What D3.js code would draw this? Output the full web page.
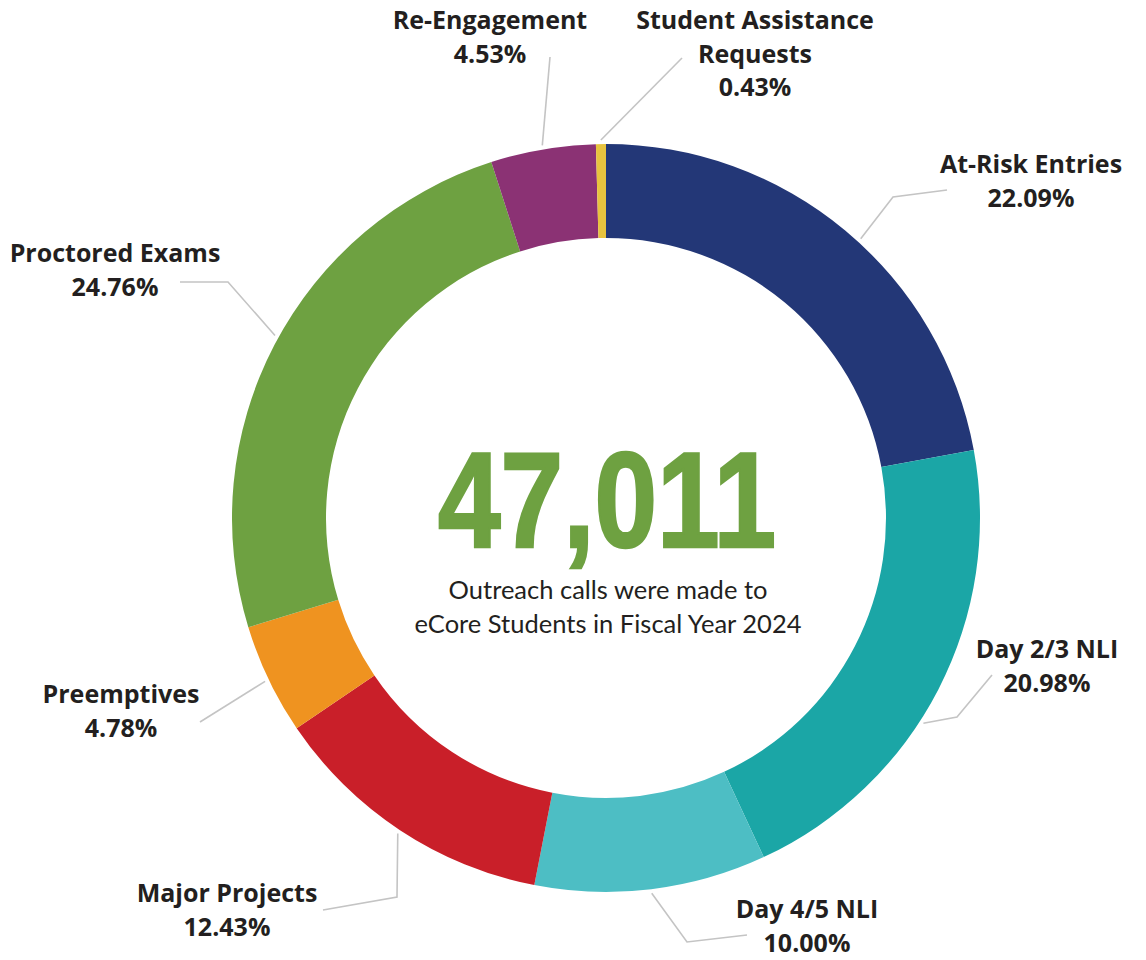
<!DOCTYPE html>
<html>
<head>
<meta charset="utf-8">
<script src="https://cdn.jsdelivr.net/npm/d3@7"></script>
<style>
  body { margin: 0; background: #fff; }
  svg { display: block; }
</style>
</head>
<body>
<div id="chart"></div>
<script>
// outreach call categories, clockwise from 12 o'clock
var categories = ["At-Risk Entries", "Day 2/3 NLI", "Day 4/5 NLI", "Major Projects",
    "Preemptives", "Proctored Exams", "Re-Engagement", "Student Assistance Requests"];
var shares = [22.09, 20.98, 10.00, 12.43, 4.78, 24.76, 4.53, 0.43];
var colors = ["#233777", "#1ba6a6", "#4dbec4", "#c91f29", "#ef9320", "#6ea141", "#8b3274", "#e7c33f"];
var totalCalls = 47011;
var subtitle = ["Outreach calls were made to", "eCore Students in Fiscal Year 2024"];

// label placement: label lines, label anchor (center x, first baseline), leader bends
var labelLayout = [
    { lines: ["At-Risk Entries"], x: 1031, y: 173, shift: 2.6, bends: [[893, 197], [947, 190]] },
    { lines: ["Day 2/3 NLI"], x: 1047, y: 658, shift: 5.6, bends: [[957, 717], [992, 675]] },
    { lines: ["Day 4/5 NLI"], x: 807, y: 918, shift: 0, bends: [[687, 942], [747, 935]] },
    { lines: ["Major Projects"], x: 227, y: 902, shift: 0, bends: [[397, 897], [323, 910]] },
    { lines: ["Preemptives"], x: 121, y: 703, shift: 0, bends: [[200, 722]] },
    { lines: ["Proctored Exams"], x: 115, y: 262, shift: 1.3, bends: [[228, 282], [180, 282]] },
    { lines: ["Re-Engagement"], x: 490, y: 29, shift: 0, bends: [[550, 57]] },
    { lines: ["Student Assistance", "Requests"], x: 755, y: 29, shift: 0, bends: [[682, 58]] }
];

var width = 1146, height = 960;
var cx = 606, cy = 518, rOuter = 374, rInner = 280;

var svg = d3.select("#chart").append("svg").attr("width", width).attr("height", height);

var data = categories.map(function(c, i) {
    return { name: c, value: shares[i], color: colors[i], layout: labelLayout[i] };
});

var pie = d3.pie().sort(null).value(function(d) { return d.value; });
var arc = d3.arc().innerRadius(rInner).outerRadius(rOuter);
var arcs = pie(data);

var ring = svg.append("g").attr("transform", "translate(" + cx + "," + cy + ")");

ring.selectAll("path")
.data(arcs)
.enter().append("path")
.attr("d", arc)
.attr("fill", function(d) { return d.data.color; });

// leader lines start just outside the ring at the slice middle
var leaders = svg.append("g");
arcs.forEach(function(d) {
    var a = (d.startAngle + d.endAngle) / 2 + d.data.layout.shift * Math.PI / 180;
    var r = rOuter + 4;
    var pts = [[cx + r * Math.sin(a), cy - r * Math.cos(a)]].concat(d.data.layout.bends);
    leaders.append("path")
    .attr("d", d3.line()(pts))
    .attr("fill", "none")
    .attr("stroke", "#c4c4c4")
    .attr("stroke-width", 1.6);
});

var fmtPct = function(v) { return v.toFixed(2) + "%"; };

var labels = svg.append("g")
.attr("font-family", "'Open Sans', Lato, sans-serif")
.attr("font-weight", 700)
.attr("font-size", 25)
.attr("fill", "#231f20")
.attr("text-anchor", "middle");

data.forEach(function(d) {
    var lines = d.layout.lines.concat([fmtPct(d.value)]);
    var t = labels.append("text").attr("x", d.layout.x).attr("y", d.layout.y);
    lines.forEach(function(l, j) {
        t.append("tspan").attr("x", d.layout.x).attr("dy", j === 0 ? 0 : 33.5).text(l);
    });
});

// center text
svg.append("text")
.attr("x", 607)
.attr("y", 547)
.attr("text-anchor", "middle")
.attr("font-family", "'Liberation Sans', Arial, sans-serif")
.attr("font-weight", 700)
.attr("font-size", 135)
.attr("fill", "#6ea141")
.attr("stroke", "#6ea141")
.attr("stroke-width", 2.5)
.attr("textLength", 338)
.attr("lengthAdjust", "spacingAndGlyphs")
.text(d3.format(",")(totalCalls));

svg.append("g")
.selectAll("text")
.data(subtitle)
.enter().append("text")
.attr("x", 608)
.attr("y", function(d, i) { return 599 + i * 34; })
.attr("text-anchor", "middle")
.attr("font-family", "Lato, 'Open Sans', sans-serif")
.attr("font-size", 25.5)
.attr("fill", "#231f20")
.text(function(d) { return d; });
</script>
</body>
</html>
